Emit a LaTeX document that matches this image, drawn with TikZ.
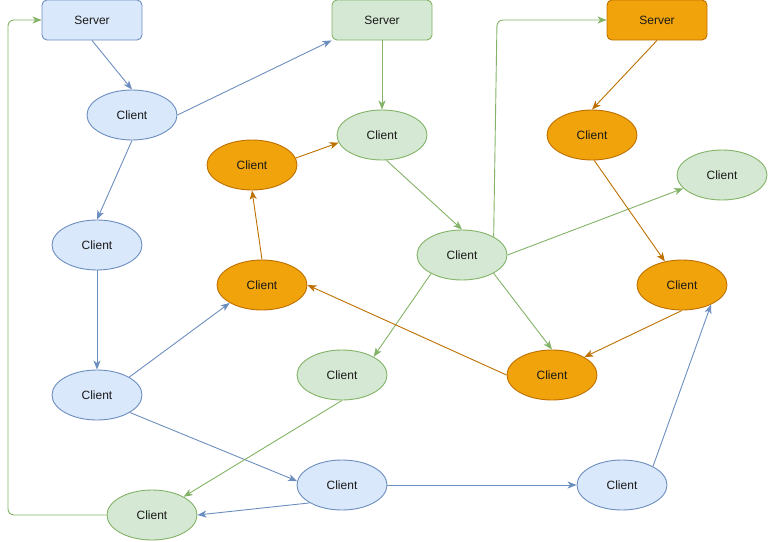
\documentclass[tikz,border=0pt]{standalone}
\usepackage{fontspec}
\setmainfont{Liberation Sans}
\usetikzlibrary{shapes.geometric,arrows.meta}
\definecolor{bfill}{HTML}{DAE8FC}
\definecolor{bline}{HTML}{6C8EBF}
\definecolor{gfill}{HTML}{D5E8D4}
\definecolor{gline}{HTML}{82B366}
\definecolor{ofill}{HTML}{F0A30A}
\definecolor{oline}{HTML}{BD7000}
\definecolor{txt}{HTML}{1A1A1A}
\tikzset{
  base/.style={font=\fontsize{12}{14}\selectfont, text=txt, line width=0.9pt, inner sep=0pt},
  cli/.style={base, ellipse, minimum width=90pt, minimum height=50pt},
  srv/.style={base, rectangle, rounded corners=5pt, minimum width=100pt, minimum height=40pt},
  bluen/.style={fill=bfill, draw=bline},
  greenn/.style={fill=gfill, draw=gline},
  orangen/.style={fill=ofill, draw=oline},
  edge/.style={line width=0.9pt, -{Stealth[length=9pt,width=7pt,inset=2.5pt]}},
  bedge/.style={edge, draw=bline, color=bline},
  gedge/.style={edge, draw=gline, color=gline},
  oedge/.style={edge, draw=oline, color=oline},
}
\begin{document}
\begin{tikzpicture}[x=1pt,y=-1pt]
\useasboundingbox (0,0) rectangle (768,541);
% servers
\node[srv,bluen] (S1) at (92,20) {Server};
\node[srv,greenn] (S2) at (382,20) {Server};
\node[srv,orangen] (S3) at (657,20) {Server};
% blue clients
\node[cli,bluen] (C1) at (132,115) {Client};
\node[cli,bluen] (C2) at (97,245) {Client};
\node[cli,bluen] (C3) at (97,395) {Client};
\node[cli,bluen] (C4) at (342,485) {Client};
\node[cli,bluen] (C5) at (622,485) {Client};
% green clients
\node[cli,greenn] (G1) at (382,135) {Client};
\node[cli,greenn] (G2) at (462,255) {Client};
\node[cli,greenn] (G3) at (722,175) {Client};
\node[cli,greenn] (G4) at (342,375) {Client};
\node[cli,greenn] (G5) at (152,515) {Client};
% orange clients
\node[cli,orangen] (O1) at (252,165) {Client};
\node[cli,orangen] (O2) at (262,285) {Client};
\node[cli,orangen] (O3) at (592,135) {Client};
\node[cli,orangen] (O4) at (682,285) {Client};
\node[cli,orangen] (O5) at (552,375) {Client};
% helper coordinates
\coordinate (k1) at (8,20);
\coordinate (k2) at (497,20);
% blue edges
\draw[bedge] (S1.south) -- (C1.north);
\draw[bedge] (C1.east) -- (S2.south west);
\draw[bedge] (C1.south) -- (C2.north);
\draw[bedge] (C2.south) -- (C3.north);
\draw[bedge] (C3.29) -- (O2.209);
\draw[bedge] (C3.332) -- (C4.175);
\draw[bedge] (C4.east) -- (C5.west);
\draw[bedge] (C5.31) -- (O4.326);
\draw[bedge] (C4.209) -- (G5.east);
% green edges
\draw[gedge, rounded corners=6pt] (G5.west) -| (k1) -- (S1.west);
\draw[gedge] (S2.south) -- (G1.north);
\draw[gedge] (G1.-80) -- (G2.north);
\draw[gedge, rounded corners=6pt] (G2.30) -- (k2) -- (S3.west);
\draw[gedge] (G2.east) -- (G3.199);
\draw[gedge] (G2.211) -- (G4.30);
\draw[gedge] (G2.330) -- (O5.north);
\draw[gedge] (G4.south) -- (G5.30);
% orange edges
\draw[oedge] (O2.north) -- (O1.south);
\draw[oedge] (O1.9) -- (G1.190);
\draw[oedge] (S3.south) -- (O3.north);
\draw[oedge] (O3.-85) -- (O4.126);
\draw[oedge] (O4.south) -- (O5.29);
\draw[oedge] (O5.west) -- (O2.east);
\end{tikzpicture}
\end{document}
